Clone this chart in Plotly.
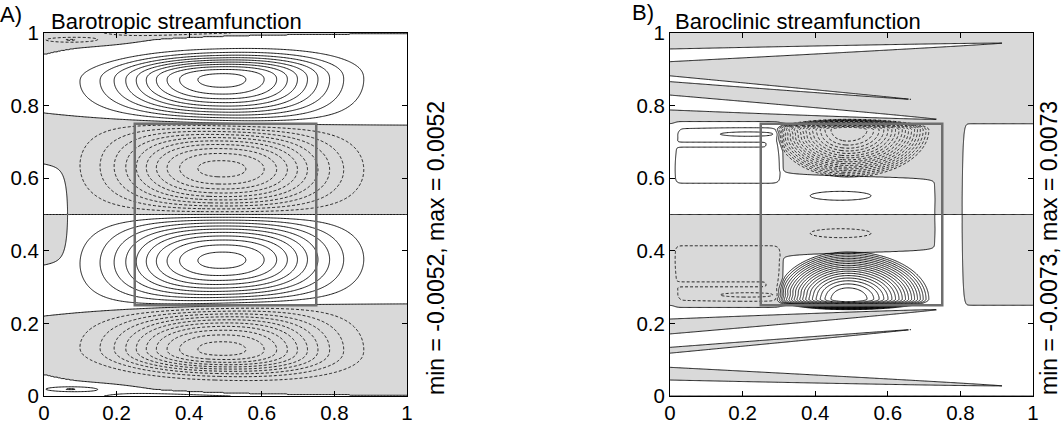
import numpy as np
import plotly.graph_objects as go

# ---------------- values ----------------
tick_vals = [0, 0.2, 0.4, 0.6, 0.8, 1]
tick_text = ["0", "0.2", "0.4", "0.6", "0.8", "1"]
box_x = [0.25, 0.75]
box_y = [0.25, 0.75]
panel_letters = ["A)", "B)"]
panel_titles = ["Barotropic streamfunction", "Baroclinic streamfunction"]

# Panel A (barotropic streamfunction)
A_min, A_max, A_step = -0.0052, 0.0052, 0.0005
A_gyre_x = 0.49            # gyre centre (x)
A_gyre_width = 0.27        # x half-scale of gyres
A_gyre_power = 2.3         # flatness of the x profile
A_div = [0.745, 0.035, 0.30]   # dividing streamline  y = a + b*exp(-x/c)
A_top = [0.058, 0.25]          # northern edge of top gyre  y = 1 - a*exp(-x/c)
A_west = [0.00045, 0.065, 0.15]            # western wall cell: amp, x width, y extent
A_corner = [-0.0009, 0.07, 0.981, 0.075, 0.007]  # corner cell: amp, x, y, sx, sy

# Panel B (baroclinic streamfunction)
B_min, B_max, B_step = -0.0073, 0.0073, 0.0004
B_eps = 0.0003                                   # weak background amplitude
B_gyre = [-0.0074, 0.49, 0.733, 0.20, 0.225, 0.133, 0.03]  # amp, xc, yc, ax_l, ax_r, ay_down, ay_up
B_gyre_power = 2.0
# zonal tongues north of 0.75: y_top(x=0), y_bottom(x=0), x_tip, y_tip
B_tongues = [
    [0.956, 0.921, 0.915, 0.972],
    [0.882, 0.866, 0.665, 0.817],
    [0.829, 0.788, 0.738, 0.762],
]
B_band = [0.727, 0.807, 0.31, 0.105]    # band x edges, widened left edge, its |y-0.5| start
B_blob = [0.00035, 0.018, 0.298, 0.588, 0.748]  # amp, x0, x1, y0, y1
B_notch = [0.692, 0.007, 0.265]                 # y centre, half width, x end
B_cell2 = [0.0005, 0.215, 0.722, 0.089, 0.007]  # amp, x, y, sx, sy
B_cell1 = [0.0003, 0.47, 0.548, 0.11, 0.016]

GREY = "#d9d9d9"
BOXC = "#6e6e6e"
FONT = "Liberation Sans, Arial, Helvetica, sans-serif"


def sig(z):
    return 0.5 * (1.0 + np.tanh(0.5 * z))


# ---------------- panel A field ----------------
def A_upper(x, y):
    y1 = A_div[0] + A_div[1] * np.exp(-x / A_div[2])
    yt = 1 - A_top[0] * np.exp(-x / A_top[1])
    yc = 0.5 * (y1 + yt)
    eta = 0.5 + 0.25 * (y - 0.5) / (y1 - 0.5)
    m2 = (y > y1) & (y <= yc)
    eta = np.where(m2, 0.75 + 0.125 * (y - y1) / (yc - y1), eta)
    t = np.clip((y - yc) / (yt - yc), 0, 1)
    f = 1 - (1 - t) ** 3 * (1 + 2 * t)
    m3 = (y > yc) & (y <= yt)
    eta = np.where(m3, 0.875 + 0.125 * f, eta)
    eta = np.where(y > yt, 1 + 0.125 * (y - yt) / (yt - yc), eta)
    g = np.exp(-np.abs((x - A_gyre_x) / A_gyre_width) ** A_gyre_power)
    psi = -A_max * g * np.sin(4 * np.pi * eta)
    s = np.clip((y - 0.5) / A_west[2], 0, 1)
    psi = psi + A_west[0] * np.exp(-(x / A_west[1]) ** 4) * np.sin(np.pi * s)
    a, cx, cy, sx, sy = A_corner
    psi = psi + a * np.exp(-((x - cx) / sx) ** 2 - ((y - cy) / sy) ** 2)
    return psi


xa = np.linspace(0, 1, 251)
ya = np.linspace(0, 1, 501)
XA, YA = np.meshgrid(xa, ya)
psiA = np.where(YA >= 0.5, A_upper(XA, YA), -A_upper(XA, 1 - YA)).astype(np.float32)


# ---------------- panel B field ----------------
def tongue(x, y, yt0, yb0, xt, ytip):
    ym0 = 0.5 * (yt0 + yb0)
    hw0 = 0.5 * (yt0 - yb0)
    frac = np.clip(x / xt, 0, 1.0)
    yc = ym0 + (ytip - ym0) * frac
    hw = hw0 * (1 - frac) ** 0.8
    hw = np.where(x > xt, -(x - xt), hw)
    return sig((hw - np.abs(y - yc)) / 0.0012)


def B_upper(x, y):
    amp, xc, yc, axl, axr, ayd, ayu = B_gyre
    ax = np.where(x < xc, axl, axr)
    ay = np.where(y < yc, ayd, ayu)
    p = B_gyre_power
    r = (np.abs((x - xc) / ax) ** p + np.abs((y - yc) / ay) ** p) ** (1 / p)
    gyre = amp * np.cos(np.pi / 2 * np.clip(r, 0, 1))
    a, x0, x1, y0, y1 = B_blob
    notch = sig((B_notch[1] - np.abs(y - B_notch[0])) / 0.0015) * sig((B_notch[2] - x) / 0.004)
    blob = (a * sig((x - x0) / 0.004) * sig((x1 - x) / 0.006)
            * sig((y - y0) / 0.004) * sig((y1 - y) / 0.003) * (1 - 0.8 * notch))
    cells = 0
    for (ca, cx, cy, sx, sy) in (B_cell1, B_cell2):
        cells = cells + ca * np.exp(-0.5 * ((x - cx) / sx) ** 2 - 0.5 * ((y - cy) / sy) ** 2)
    return gyre + blob + cells


def psiB_field(xv, yv):
    X, Y = np.meshgrid(xv, yv)
    d = np.abs(Y - 0.5)
    T = np.zeros_like(X)
    for tg in B_tongues:
        T = T + tongue(X, Y, *tg) + tongue(X, 1 - Y, *tg)
    T = np.clip(T, 0, 1)
    xL = B_band[0] - (B_band[0] - B_band[2]) * sig((d - B_band[3]) / 0.003) * sig((0.251 - d) / 0.002)
    band = sig((X - xL) / 0.003) * sig((B_band[1] - X) / 0.003) * sig((0.2515 - d) / 0.0015)
    base = ((1 - band) * B_eps * np.sin(4 * np.pi * Y) * (1 - 2 * T)
            + band * B_eps * np.sin(2 * np.pi * Y))
    return (base + B_upper(X, Y) - B_upper(X, 1 - Y)).astype(np.float32)


# fine grid for the shaded sign field (thin tongues), refined grid for gyre lines
xb_f = np.linspace(0, 1, 401)
yb_f = np.linspace(0, 1, 1429)
psiB_f = psiB_field(xb_f, yb_f)
xb = np.linspace(0, 1, 301)
yb = np.unique(np.round(np.concatenate([
    np.arange(0, 1.00001, 0.0015),
    np.arange(0.215, 0.285, 0.0006),
    np.arange(0.715, 0.785, 0.0006),
    [1.0]]), 6))
psiB = psiB_field(xb, yb)


# ---------------- figure ----------------
def contour_traces(xf, yf, zf, x, y, z, step, vmax, xa_name, ya_name):
    n = int(round(vmax / step))
    common = dict(showscale=False, hoverinfo="skip", autocontour=False,
                  xaxis=xa_name, yaxis=ya_name)
    fill = go.Contour(x=xf, y=yf, z=zf, **common,
                      contours=dict(start=0, end=0, size=1, coloring="fill", showlines=True),
                      colorscale=[[0, GREY], [0.5, GREY], [0.5, "white"], [1, "white"]],
                      line=dict(color="black", width=0.9, smoothing=1))
    neg = go.Contour(x=x, y=y, z=z, **common,
                     contours=dict(start=-n * step, end=-step * 0.999, size=step, coloring="none"),
                     line=dict(color="black", width=0.85, dash="3px,2px", smoothing=1))
    pos = go.Contour(x=x, y=y, z=z, **common,
                     contours=dict(start=step, end=n * step * 1.0001, size=step, coloring="none"),
                     line=dict(color="black", width=0.9, smoothing=1))
    return [fill, neg, pos]


fig = go.Figure()
for tr in contour_traces(xa, ya, psiA, xa, ya, psiA, A_step, 0.005, "x", "y"):
    fig.add_trace(tr)
for tr in contour_traces(xb_f, yb_f, psiB_f, xb, yb, psiB, B_step, 0.0072, "x2", "y2"):
    fig.add_trace(tr)

W, H = 1064, 426
domA = [44 / W, 407 / W]
domB = [670 / W, 1033 / W]
domY = [30 / H, 393 / H]

axis_common = dict(range=[0, 1], tickvals=tick_vals, ticktext=tick_text, ticks="inside",
                   ticklen=5, tickwidth=1, tickcolor="black", showline=True, linecolor="black",
                   linewidth=1, mirror="ticks", showgrid=False, zeroline=False, automargin=False,
                   tickfont=dict(family=FONT, size=20.5, color="black"))
xaxis_extra = dict(ticklabelstandoff=-2)

fig.update_layout(
    width=W, height=H, margin=dict(l=0, r=0, t=0, b=0, autoexpand=False),
    paper_bgcolor="white", plot_bgcolor="white", showlegend=False,
    xaxis=dict(domain=domA, anchor="y", **axis_common, **xaxis_extra),
    yaxis=dict(domain=domY, anchor="x", **axis_common),
    xaxis2=dict(domain=domB, anchor="y2", **axis_common, **xaxis_extra),
    yaxis2=dict(domain=domY, anchor="x2", **axis_common),
)

for xr, yr in (("x", "y"), ("x2", "y2")):
    fig.add_shape(type="rect", xref=xr, yref=yr, x0=box_x[0], x1=box_x[1],
                  y0=box_y[0], y1=box_y[1], line=dict(color=BOXC, width=2.5), layer="above")

labels = [
    (panel_letters[0], -2, 14, "left", 0, 22),
    (panel_titles[0], 49, 21, "left", 0, 22),
    (panel_letters[1], 630, 13, "left", 0, 22),
    (panel_titles[1], 673, 21, "left", 0, 22),
    (f"min = {A_min}, max = {A_max}", 436, 248, "center", -90, 23),
    (f"min = {B_min}, max = {B_max}", 1049, 248, "center", -90, 23),
]
for text, px, py, xanchor, ang, size in labels:
    fig.add_annotation(text=text, x=px / W, y=1 - py / H, xref="paper", yref="paper",
                       xanchor=xanchor, yanchor="middle", showarrow=False, textangle=ang,
                       font=dict(family=FONT, size=size, color="black"))

fig.write_html("out.html")
